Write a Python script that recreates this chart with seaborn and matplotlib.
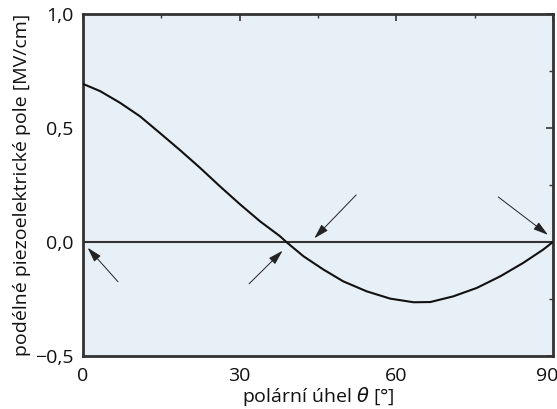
import numpy as np
import pandas as pd
import matplotlib
matplotlib.use("Agg")
import matplotlib.pyplot as plt
import matplotlib.transforms as mtransforms
from matplotlib.ticker import FuncFormatter, MultipleLocator
import seaborn as sns

# data
theta = [0, 3.3, 7.1, 10.9, 14.7, 18.6, 22.4, 26.2, 30.1, 33.9, 37.7, 38.9,
         42.2, 46.0, 49.8, 54.3, 58.8, 63.3, 66.5, 70.9, 75.4, 79.9, 84.3, 88.1, 90]
field = [0.693, 0.661, 0.610, 0.551, 0.478, 0.402, 0.325, 0.244, 0.164, 0.090, 0.025, 0.0,
         -0.063, -0.121, -0.173, -0.217, -0.249, -0.265, -0.264, -0.239, -0.202, -0.151,
         -0.092, -0.034, 0.0]

xticks = [0, 30, 60, 90]
yticks = [-0.5, 0.0, 0.5, 1.0]

# arrows: (tail x, tail y) -> (head x, head y)
arrow_tails = [(6.7, -0.175), (31.8, -0.184), (52.3, 0.206), (79.5, 0.197)]
arrow_heads = [(0.9, -0.026), (38.2, -0.039), (44.3, 0.016), (89.0, 0.031)]

df = pd.DataFrame({"theta": theta, "field": field})

sns.set_theme(style="white")
plt.rcParams['font.family'] = ['Open Sans', 'DejaVu Sans']
plt.rcParams['mathtext.fontset'] = 'dejavusans'

fig = plt.figure(figsize=(5.57, 4.09), dpi=100)
ax = fig.add_axes([0.149, 0.13, 0.844, 0.836])
ax.set_facecolor("#e7eff7")

ax.axhline(0, color="#333333", lw=1.5, zorder=2)
sns.lineplot(data=df, x="theta", y="field", color="#111111", lw=1.5, ax=ax, zorder=3)

for (tx, ty), (hx, hy) in zip(arrow_tails, arrow_heads):
    ax.annotate("", xy=(hx, hy), xytext=(tx, ty),
                arrowprops=dict(arrowstyle="-|>,head_length=0.75,head_width=0.22",
                                color="#222222", lw=0.7, shrinkA=0, shrinkB=0), zorder=4)

ax.set_xlim(0, 90)
ax.set_ylim(-0.5, 1.0)
ax.set_xticks(xticks)
ax.set_yticks(yticks)
ax.xaxis.set_minor_locator(MultipleLocator(15))
ax.yaxis.set_minor_locator(MultipleLocator(0.25))
ax.yaxis.set_major_formatter(FuncFormatter(lambda v, p: f"{v:.1f}".replace(".", ",").replace("-", "\u2212")))

ax.tick_params(which="both", direction="in", top=True, right=True, color="#333333",
               labelsize=14, labelcolor="#111111")
ax.tick_params(which="major", length=5, width=1.2)
ax.tick_params(axis="x", which="major", pad=8)
ax.tick_params(axis="y", which="major", pad=7)
ax.tick_params(which="minor", length=3, width=1)

# last x label sits against the right edge, as in the original
last = ax.get_xticklabels()[-1]
last.set_transform(last.get_transform() + mtransforms.ScaledTranslation(-6 / 100, 0, fig.dpi_scale_trans))

for s in ax.spines.values():
    s.set_color("#333333")
    s.set_linewidth(2)

ax.set_xlabel(r"polární úhel $\theta$ [°]", fontsize=14, color="#111111", labelpad=0)
ax.set_ylabel("podélné piezoelektrické pole [MV/cm]", fontsize=14, color="#111111", labelpad=3)

plt.savefig("out.png", dpi=100)
